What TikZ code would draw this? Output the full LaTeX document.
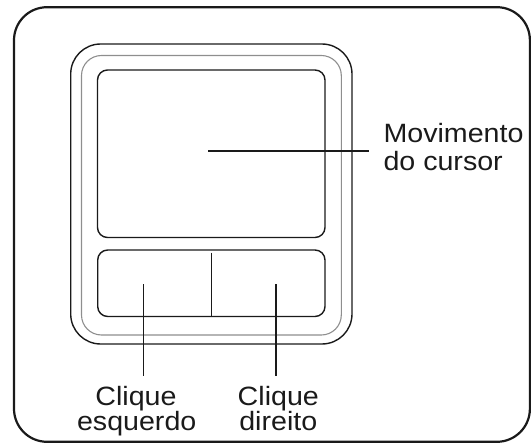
\documentclass[tikz,border=0pt]{standalone}
\usepackage{fontspec}
\setmainfont{Liberation Sans}
\definecolor{ink}{HTML}{1A1A1A}
\definecolor{rim}{HTML}{8E8E8E}
\begin{document}
\begin{tikzpicture}[x=1pt,y=-1pt,
  frame/.style={draw=ink,line width=2.2pt,rounded corners=33pt},
  padline/.style={draw=ink,line width=1.4pt},
  rimline/.style={draw=rim,line width=1.1pt},
  leader/.style={draw=ink,line width=1.3pt},
  lbl/.style={inner sep=0pt,text=ink,font=\fontsize{26.5}{30}\selectfont,xscale=1.08}]
\useasboundingbox (0,0) rectangle (531,444);
% outer frame
\path[frame] (14,7.2) rectangle (529.9,441.8);
% touchpad body
\path[padline,rounded corners=30pt] (70.7,44) rectangle (352,344);
\path[rimline,rounded corners=20pt] (81.5,55.5) rectangle (341.3,335);
% pad surface
\path[padline,rounded corners=10pt] (97.5,70) rectangle (325,237.5);
% buttons
\path[padline,rounded corners=10pt] (97.7,250) rectangle (325,316.5);
\coordinate (divtop) at (211.7,252.7);
\coordinate (divbot) at (211.7,316.5);
\draw[padline] (divtop) -- (divbot);
% labels
\node[lbl,anchor=base west] (mov1) at (383.3,142.7) {Movimento};
\node[lbl,anchor=base west] (mov2) at (383.3,170.7) {do cursor};
\node[lbl,anchor=base] (cl1) at (136,405.7) {Clique};
\node[lbl,anchor=base] (cl2) at (136.7,430.7) {esquerdo};
\node[lbl,anchor=base] (cr1) at (278.3,405.7) {Clique};
\node[lbl,anchor=base] (cr2) at (278.3,430.7) {direito};
% leader lines
\coordinate (padpt) at (208.3,151);
\coordinate (movend) at (369,151);
\coordinate (lbpt) at (143.3,284);
\coordinate (lbend) at (143.3,376);
\coordinate (rbpt) at (276,284.3);
\coordinate (rbend) at (276,376);
\draw[leader] (padpt) -- (movend);
\draw[leader] (lbpt) -- (lbend);
\draw[leader] (rbpt) -- (rbend);
\end{tikzpicture}
\end{document}
